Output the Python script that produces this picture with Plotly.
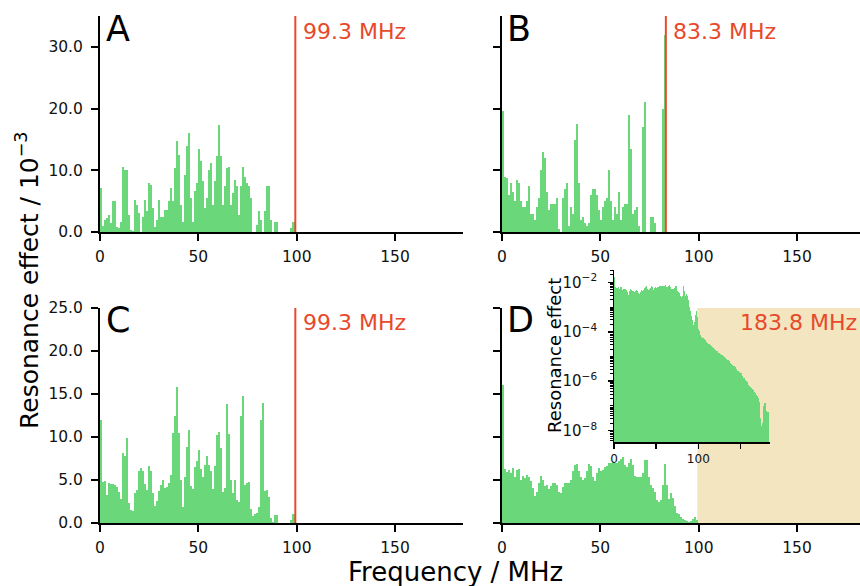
import plotly.graph_objects as go

# ---------------- data ----------------
NYQUIST_MHZ = 183.8
N_BINS = 181
BIN_MHZ = NYQUIST_MHZ / N_BINS

# Resonance effect (x 10^-3) per frequency bin
panel_a = [7.1, 0.9, 2.0, 2.3, 2.8, 1.5, 5.0, 5.0, 0.8, 0.6,
           1.7, 10.6, 10.1, 10.1, 2.8, 0.4, 0.1, 5.2, 4.4, 3.1,
           0.0, 2.5, 5.2, 3.4, 7.9, 7.7, 3.9, 0.8, 2.0, 5.2,
           2.5, 2.5, 3.6, 3.6, 5.0, 7.1, 5.0, 10.4, 14.7, 12.5,
           4.4, 1.7, 9.3, 13.9, 16.1, 5.5, 1.7, 6.6, 7.9, 13.4,
           11.5, 8.2, 3.9, 5.5, 10.1, 11.2, 4.4, 8.2, 12.3, 17.4,
           12.3, 4.4, 7.4, 10.4, 10.6, 4.4, 6.3, 8.5, 7.4, 2.8,
           7.4, 10.6, 9.0, 7.9, 7.4, 5.5, 0.0, 0.0, 1.2, 3.4,
           2.0, 0.0, 3.4, 7.4, 7.4, 2.0, 0.0, 1.6, 1.6, 0.0,
           0.0, 0.0, 0.0, 0.0, 0.0, 0.6, 1.7, 1.7]

panel_b = [19.7, 9.0, 8.8, 6.0, 8.0, 6.5, 5.0, 8.5, 8.0, 5.0,
           4.0, 4.0, 5.0, 7.5, 3.0, 3.0, 2.0, 4.0, 5.5, 10.0,
           13.0, 12.0, 6.5, 3.5, 4.5, 4.5, 4.5, 5.5, 0.5, 0.0,
           5.5, 7.0, 8.0, 1.0, 4.0, 3.0, 15.0, 17.5, 8.0, 2.0,
           2.5, 1.5, 1.0, 1.5, 6.0, 7.0, 7.0, 6.0, 3.5, 2.0,
           4.0, 5.0, 5.5, 10.0, 5.0, 2.0, 4.0, 3.0, 6.5, 2.0,
           4.0, 4.5, 4.5, 19.0, 13.5, 3.0, 3.5, 4.0, 1.0, 0.0,
           17.0, 21.0, 0.0, 0.0, 2.5, 2.5, 1.5, 0.0, 0.0, 0.0,
           20.0, 32.0]

panel_c = [12.0, 4.8, 4.9, 3.2, 4.7, 4.5, 4.5, 4.4, 4.2, 3.6,
           2.8, 8.1, 7.8, 9.9, 2.3, 1.5, 1.4, 3.5, 3.8, 6.0,
           6.4, 6.0, 4.5, 3.8, 6.6, 6.0, 3.5, 2.0, 2.6, 3.7,
           4.4, 5.0, 4.1, 4.2, 4.6, 5.6, 10.5, 12.5, 15.8, 10.5,
           5.0, 1.9, 5.3, 8.8, 10.8, 4.3, 4.0, 6.5, 7.2, 8.5,
           6.3, 5.4, 6.8, 7.8, 6.8, 6.0, 4.0, 6.6, 10.2, 10.6,
           8.7, 3.6, 4.1, 13.8, 10.3, 5.0, 3.5, 5.0, 2.7, 2.4,
           12.5, 14.8, 4.4, 4.6, 4.8, 1.6, 0.8, 1.0, 1.2, 1.9,
           12.0, 14.0, 3.7, 3.8, 3.0, 0.6, 0.1, 0.9, 0.9, 0.0,
           0.0, 0.0, 0.0, 0.0, 0.0, 0.4, 1.0, 1.0]

panel_d = [16.0, 6.3, 5.9, 6.2, 5.8, 6.4, 5.3, 6.2, 6.3, 5.0,
           5.5, 5.2, 5.6, 5.4, 4.9, 4.1, 3.1, 3.6, 4.6, 5.5,
           5.0, 4.3, 4.4, 4.0, 4.3, 4.6, 4.7, 4.4, 3.6, 3.5,
           4.2, 4.7, 4.7, 4.6, 5.0, 6.0, 6.7, 6.9, 6.0, 5.4,
           5.0, 5.2, 6.0, 6.9, 6.6, 5.3, 4.9, 5.8, 6.4, 6.0,
           6.2, 6.5, 6.6, 7.0, 7.0, 7.2, 7.0, 7.0, 7.2, 7.4,
           7.7, 6.7, 6.5, 7.0, 7.5, 6.8, 5.5, 5.3, 5.3, 5.4,
           5.8, 7.3, 7.3, 5.3, 4.4, 4.1, 3.6, 2.7, 2.5, 2.7,
           4.4, 6.9, 4.4, 2.8, 3.5, 2.9, 2.0, 1.2, 1.0, 0.7,
           0.45, 0.3, 0.18, 0.16, 0.25, 0.5, 0.7, 0.4,
           0.126, 0.105, 0.089, 0.076, 0.063, 0.058, 0.054, 0.049, 0.045, 0.042,
           0.039, 0.035, 0.033, 0.032, 0.030, 0.027, 0.025, 0.024, 0.022, 0.020,
           0.019, 0.017, 0.016, 0.015, 0.0145, 0.0135, 0.0123, 0.0115, 0.0112, 0.0107,
           0.010, 0.0095, 0.0087, 0.0081, 0.0074, 0.0069, 0.0063, 0.0059, 0.0054, 0.0050,
           0.0047, 0.0043, 0.0040, 0.0036, 0.0033, 0.0030, 0.0027, 0.0025, 0.0024, 0.0022,
           0.0021, 0.0019, 0.0016, 0.0014, 0.0013, 0.00115, 0.00102, 0.00091, 0.00081, 0.00072,
           0.00065, 0.00058, 0.00052, 0.00050, 0.00045, 0.00040, 0.00038, 0.00033, 0.00028, 0.00025,
           0.00021, 0.00014, 0.00008, 0.000032, 0.000016, 0.00002, 0.0001, 0.000126, 0.00013, 0.00011,
           0.000063, 0.000056, 0.000056]

cutoff_a = 99.3
cutoff_b = 83.3
cutoff_c = 99.3
band_d_start = 99.3
label_a = "99.3 MHz"
label_b = "83.3 MHz"
label_c = "99.3 MHz"
label_d = "183.8 MHz"
panel_letters = ["A", "B", "C", "D"]

x_ticks = [0, 50, 100, 150]
y_ticks_ab = [0, 10, 20, 30]
y_ticks_cd = [0, 5, 10, 15, 20, 25]
inset_x_labelled = [0, 100]
inset_x_step = 50

# ---------------- styling ----------------
W, H = 860, 586
GREEN = "#6ad77a"
RED = "#e8492b"
TAN = "#f2e5c0"
FONT = "DejaVu Sans"
PX_PER_MHZ = 1.967


def px(x):
    return x / W


def py(y):
    return 1 - y / H


def centers(vals):
    return [(i + 0.5) * BIN_MHZ for i in range(len(vals))]


fig = go.Figure()


def add_bars(vals, xa, ya, scale=1.0, x_max=None):
    xs = centers(vals)
    pairs = [(x, v * scale) for x, v in zip(xs, vals) if x_max is None or x < x_max]
    fig.add_trace(go.Bar(
        x=[p[0] for p in pairs], y=[p[1] for p in pairs], width=BIN_MHZ,
        marker=dict(color=GREEN, line=dict(width=0)),
        xaxis=xa, yaxis=ya, showlegend=False, hoverinfo="skip"))


add_bars(panel_a, "x", "y")
add_bars(panel_b, "x2", "y2")
add_bars(panel_c, "x3", "y3")
add_bars(panel_d, "x4", "y4", x_max=band_d_start)   # rest hidden under the band
add_bars(panel_d, "x5", "y5", scale=1e-3)

axis_common = dict(showline=True, linecolor="black", linewidth=2,
                   ticks="outside", ticklen=7, tickwidth=2, tickcolor="black",
                   showgrid=False, zeroline=False, automargin=False,
                   tickfont=dict(size=15.5, color="#111111", family=FONT))

left_dom = [px(100), px(463)]
right_dom = [px(502), 1.0]
top_dom = [py(232), py(16)]
bot_dom = [py(523), py(308)]

xr_left = [0, (463 - 100) / PX_PER_MHZ]
xr_right = [0, (860 - 502) / PX_PER_MHZ]
yr_top = [0, (232 - 16) / 6.167]

inset_common = dict(showline=True, linecolor="black", linewidth=1.5, ticks="outside",
                    ticklen=5, tickwidth=1.5, tickcolor="black", showgrid=False,
                    zeroline=False, automargin=False,
                    tickfont=dict(size=12, color="#111111", family=FONT))

fig.update_layout(
    xaxis=dict(axis_common, domain=left_dom, range=xr_left, tickvals=x_ticks, anchor="y",
               ticklabelstandoff=2),
    yaxis=dict(axis_common, domain=top_dom, range=yr_top, tickvals=y_ticks_ab,
               tickformat=".1f", anchor="x", ticklabelstandoff=5),
    xaxis2=dict(axis_common, domain=right_dom, range=xr_right, tickvals=x_ticks, anchor="y2",
                ticklabelstandoff=2),
    yaxis2=dict(axis_common, domain=top_dom, range=yr_top, tickvals=y_ticks_ab,
                showticklabels=False, anchor="x2"),
    xaxis3=dict(axis_common, domain=left_dom, range=xr_left, tickvals=x_ticks, anchor="y3",
                ticklabelstandoff=2),
    yaxis3=dict(axis_common, domain=bot_dom, range=[0, 25], tickvals=y_ticks_cd,
                tickformat=".1f", anchor="x3", ticklabelstandoff=5),
    xaxis4=dict(axis_common, domain=right_dom, range=xr_right, tickvals=x_ticks, anchor="y4",
                ticklabelstandoff=2),
    yaxis4=dict(axis_common, domain=bot_dom, range=[0, 25], tickvals=y_ticks_cd,
                showticklabels=False, anchor="x4"),
    xaxis5=dict(inset_common, domain=[px(614), px(770)], range=[0, 185],
                tickvals=inset_x_labelled, anchor="y5",
                minor=dict(ticks="outside", ticklen=5, tickwidth=1.5, tickcolor="black",
                           tick0=0, dtick=inset_x_step, showgrid=False)),
    yaxis5=dict(inset_common, type="log",
                domain=[py(442), py(270)], range=[-8.46, -1.5], dtick=2,
                exponentformat="power", anchor="x5", ticklabelstandoff=8,
                minor=dict(ticks="outside", ticklen=3, tickwidth=1, tickcolor="black",
                           dtick="D1", showgrid=False)),
    bargap=0,
    width=W, height=H,
    margin=dict(l=0, r=0, t=0, b=0, autoexpand=False),
    paper_bgcolor="white", plot_bgcolor="rgba(0,0,0,0)",
    font=dict(family=FONT, color="black"),
    showlegend=False,
)

# tan band in D
fig.add_shape(type="rect", xref="x4", yref="y4 domain", x0=band_d_start, x1=xr_right[1],
              y0=0, y1=1, fillcolor=TAN, line=dict(width=0), layer="below")

# red cut-off lines
for xa, ya, xv in [("x", "y", cutoff_a), ("x2", "y2", cutoff_b), ("x3", "y3", cutoff_c)]:
    fig.add_shape(type="line", xref=xa, yref=ya + " domain", x0=xv, x1=xv, y0=0, y1=1,
                  line=dict(color=RED, width=2))

ann = []
# panel letters
for txt, x, y in zip(panel_letters, [104, 505, 104, 505], [29, 29, 320, 320]):
    ann.append(dict(text=txt, x=px(x), y=py(y), xref="paper", yref="paper",
                    xanchor="left", yanchor="middle", showarrow=False,
                    font=dict(size=35, color="black", family=FONT)))
# red labels
for txt, x, y, anc in [(label_a, 301, 31, "left"), (label_b, 671, 31, "left"),
                       (label_c, 301, 322, "left"), (label_d, 859, 322, "right")]:
    ann.append(dict(text=txt, x=px(x), y=py(y), xref="paper", yref="paper",
                    xanchor=anc, yanchor="middle", showarrow=False,
                    font=dict(size=22, color=RED, family=FONT)))
# axis titles
ann.append(dict(text="Frequency / MHz", x=px(455), y=py(572), xref="paper", yref="paper",
                xanchor="center", yanchor="middle", showarrow=False,
                font=dict(size=26, color="black", family=FONT)))
ann.append(dict(text="Resonance effect / 10<sup>\u22123</sup>", x=px(27), y=py(280),
                xref="paper", yref="paper", xanchor="center", yanchor="middle",
                textangle=-90, showarrow=False,
                font=dict(size=25, color="black", family=FONT)))
ann.append(dict(text="Resonance effect", x=px(554), y=py(356), xref="paper", yref="paper",
                xanchor="center", yanchor="middle", textangle=-90, showarrow=False,
                font=dict(size=18, color="black", family=FONT)))
fig.update_layout(annotations=ann)

fig.write_html(
    "out.html",
    config={"displayModeBar": False, "staticPlot": True},
    post_script="document.body.style.margin='0';document.body.style.padding='0';"
                "document.body.style.overflow='hidden';",
)
